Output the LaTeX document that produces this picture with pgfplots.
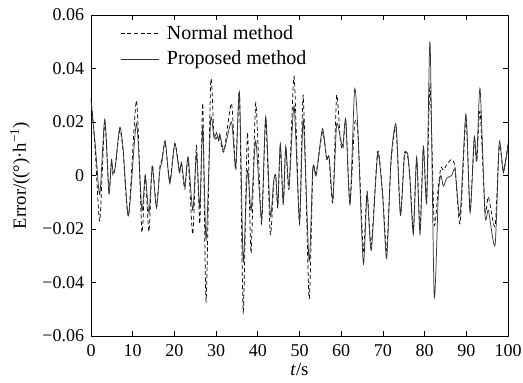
\documentclass[border=0pt]{standalone}
\usepackage{fontspec}
\setmainfont{Liberation Serif}
\usepackage{pgfplots}
\pgfplotsset{compat=1.18}
\usetikzlibrary{calc}
\pgfplotstableread{
t y
0 0.028
1.0 0.012
2.1 -0.007
3.3 0.021
4.3 -0.007
4.9 0.006
5.3 0.001
5.8 0.003
6.9 0.018
7.7 0.010
9.0 -0.015
10.9 0.0195
12.2 -0.013
13.0 0.000
13.9 -0.014
14.7 0.003
15.7 -0.012
16.5 0.002
17.0 0.005
17.8 0.013
18.9 -0.003
20.1 0.012
21.2 0.001
21.7 0.005
22.5 -0.004
23.3 0.007
24.4 -0.013
25.3 0.008
26.1 -0.012
26.8 0.018
27.6 -0.024
28.7 0.021
29.5 0.014
30.1 0.016
30.6 0.013
30.9 0.0155
31.9 0.0095
33.7 0.020
34.7 0.003
35.6 0.031
36.5 -0.032
37.5 0.002
38.4 -0.013
39.5 0.013
40.9 -0.016
41.9 0.022
43.0 -0.015
43.8 -0.002
44.3 0.000
44.8 -0.011
45.4 0.012
46.1 -0.010
46.7 0.011
47.5 -0.004
48.7 0.026
50.0 -0.017
50.9 0.021
52.3 -0.032
53.2 0.003
54.0 0.000
55.5 0.0175
56.5 0.006
57.1 0.007
58.0 -0.009
58.9 0.019
59.8 0.014
60.4 0.011
61.1 0.021
62.1 -0.011
63.2 0.032
64.0 0.017
65.3 -0.033
66.2 -0.007
67.2 -0.028
68.75 0.008
69.95 -0.008
70.9 -0.031
71.95 0.006
73.15 0.019
74.2 -0.015
75.15 0.007
75.95 0.008
76.5 -0.002
77.3 -0.022
78.1 0.007
78.9 -0.022
79.7 0.011
80.5 -0.010
81.3 0.050
82.3 -0.045
83.3 -0.007
83.9 0.000
84.5 -0.004
85.3 -0.001
86.5 0.000
87.3 0.002
88.5 -0.015
89.9 0.023
90.9 -0.014
91.9 0.0145
92.5 0.006
93.3 0.0325
94.5 -0.015
95.3 -0.013
96.9 -0.026
97.9 0.0125
98.9 0.001
100 0.012
}\proposed
\pgfplotstableread{
t y
0 0.029
1.0 0.010
2.1 -0.017
3.3 0.020
4.3 -0.005
4.9 0.005
5.3 0.000
5.8 0.003
6.9 0.017
7.7 0.009
9.0 -0.015
10.9 0.028
12.2 -0.021
13.0 0.000
13.9 -0.021
14.7 0.004
15.7 -0.012
16.5 0.003
17.0 0.006
17.8 0.012
18.9 -0.002
20.1 0.012
21.2 0.002
21.7 0.004
22.5 -0.005
23.3 0.006
24.4 -0.022
25.3 0.011
26.1 -0.018
26.8 0.027
27.6 -0.047
28.7 0.035
29.5 0.015
30.1 0.014
30.6 0.015
30.9 0.014
31.9 0.009
33.7 0.027
34.7 0.002
35.6 0.031
36.5 -0.051
37.5 0.016
38.4 -0.029
39.5 0.027
40.9 -0.018
41.9 0.021
43.0 -0.022
43.8 -0.003
44.3 0.000
44.8 -0.012
45.4 0.011
46.1 -0.011
46.7 0.010
47.5 -0.005
48.7 0.037
50.0 -0.018
50.9 0.030
52.3 -0.046
53.2 0.002
54.0 0.001
55.5 0.016
56.5 0.007
57.1 0.006
58.0 -0.010
58.9 0.030
59.8 0.013
60.4 0.010
61.1 0.020
62.1 -0.010
63.2 0.019
64.0 0.016
65.3 -0.028
66.2 -0.006
67.2 -0.026
68.75 0.009
69.95 -0.007
70.9 -0.028
71.95 0.005
73.15 0.018
74.2 -0.014
75.15 0.008
75.95 0.007
76.5 -0.001
77.3 -0.020
78.1 0.006
78.9 -0.020
79.7 0.010
80.5 -0.009
81.3 0.034
82.3 -0.018
83.3 -0.004
83.9 0.003
84.5 0.002
85.3 0.004
86.5 0.006
87.3 0.003
88.5 -0.018
89.9 0.021
90.9 -0.013
91.9 0.013
92.5 0.005
93.3 0.024
94.5 -0.013
95.3 -0.008
96.9 -0.019
97.9 0.011
98.9 0.002
100 0.011
}\normal
\begin{document}
\fontsize{15}{18}\selectfont
\begin{tikzpicture}
\begin{axis}[
  name=ax,
  scale only axis,
  width=312.75pt, height=240.75pt,
  xmin=0, xmax=100, ymin=-0.06, ymax=0.06,
  xtick={0,10,20,30,40,50,60,70,80,90,100},
  xticklabels={0,10,20,30,40,50,60,70,80,90,100},
  ytick={-0.06,-0.04,-0.02,0,0.02,0.04,0.06},
  yticklabels={−0.06,−0.04,−0.02,0,0.02,0.04,0.06},
  scaled y ticks=false,
  tick align=inside,
  major tick length=4pt,
  tick style={black, line width=0.6pt},
  axis line style={line width=0.7pt},
  ticklabel style={font=\fontsize{13.5}{16}\selectfont},
  xticklabel style={yshift=-1pt},
  label style={font=\fontsize{14}{17}\selectfont},
  xlabel={\textit{t}/s},
  ylabel={Error/((\textdegree)·h\textsuperscript{−1})},
  xlabel style={at={(axis description cs:0.5,-0.103)}, anchor=center},
  ylabel style={at={(axis description cs:-0.17,0.5)}, anchor=center},
  legend style={draw=none, fill=none, at={(0.06,0.985)}, anchor=north west,
    font=\fontsize{15}{18}\selectfont, row sep=2.5pt, column sep=4pt},
  legend cell align=left,
  legend image code/.code={\draw[#1] (0cm,0cm) -- (1.0cm,0cm);},
]
\addplot[black, line width=0.55pt, dash pattern=on 3pt off 2pt, smooth, tension=0.4] table[x=t,y=y] {\normal};
\addlegendentry{Normal method}
\addplot[black!80, line width=0.55pt, smooth, tension=0.4] table[x=t,y=y] {\proposed};
\addlegendentry{Proposed method}
\end{axis}
\pgfresetboundingbox
\path ($(ax.south west)+(-68.25pt,-34.5pt)$) rectangle ($(ax.north east)+(11.25pt,11.25pt)$);
\end{tikzpicture}
\end{document}
